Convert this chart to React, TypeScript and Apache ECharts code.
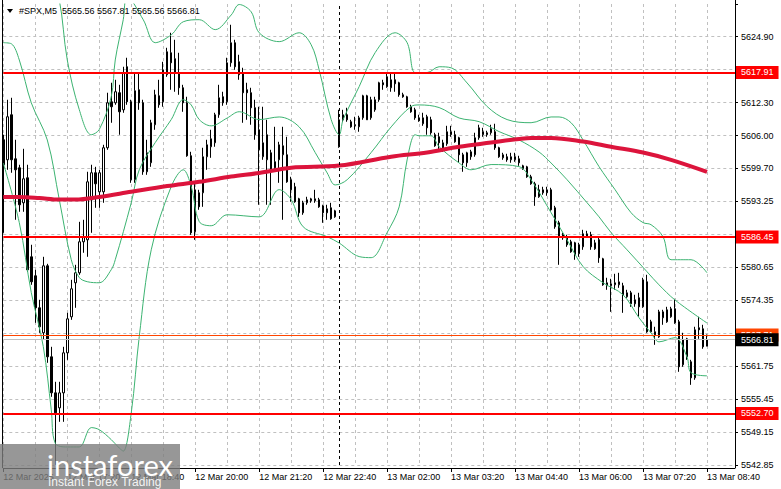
import React, { useEffect, useRef } from "react";
import * as echarts from "echarts";

// ---------- data ----------
const symbolName = "#SPX,M5";
const firstLabel = "12 Mar 2025";
const sessions = [
  { day: "12 Mar", startMin: 16 * 60, bars: 84, names: 84 },
  { day: "13 Mar", startMin: 60, bars: 93, names: 100 },
];

const opens = [
  5605.04, 5601.21, 5609.82, 5601.4, 5599.68, 5592.99, 5597.77, 5582.66, 5579.03, 5572.91,
  5568.13, 5580.94, 5563.54, 5556.65, 5553.78, 5556.65, 5564.3, 5571.19, 5577.69, 5579.6,
  5585.53, 5585.91, 5593.56, 5598.73, 5595.09, 5595.09, 5603.51, 5612.3, 5612.11, 5614.03,
  5610.77, 5619.0, 5612.3, 5597.39, 5614.6, 5612.11, 5598.92, 5600.64, 5607.91, 5613.45,
  5612.3, 5617.47, 5621.67, 5620.53, 5617.85, 5614.98, 5612.11, 5601.98, 5587.44, 5594.9,
  5594.9, 5601.79, 5603.7, 5604.46, 5609.82, 5613.26, 5612.3, 5619.76, 5623.59, 5619.95,
  5617.85, 5614.6, 5614.03, 5611.16, 5606.95, 5601.79, 5601.21, 5602.55, 5600.83, 5601.21,
  5602.17, 5602.17, 5597.39, 5596.05, 5593.75, 5591.07, 5592.99, 5593.37, 5593.37, 5593.56,
  5592.41, 5591.07, 5592.03, 5590.31, 5603.7, 5608.86, 5609.82, 5608.48, 5607.71, 5607.52,
  5609.24, 5613.45, 5609.24, 5610.77, 5612.69, 5615.94, 5615.17, 5614.98, 5616.51, 5615.94,
  5613.64, 5613.26, 5611.35, 5610.77, 5609.24, 5608.1, 5609.44, 5608.86, 5606.0, 5605.61,
  5603.12, 5604.27, 5606.0, 5606.0, 5605.42, 5602.17, 5600.64, 5601.79, 5602.17, 5605.42,
  5606.0, 5606.0, 5606.38, 5606.57, 5603.51, 5601.59, 5601.79, 5601.21, 5601.21, 5601.4,
  5600.06, 5599.87, 5597.96, 5596.62, 5594.14, 5594.9, 5594.9, 5595.47, 5592.03, 5589.16,
  5586.87, 5586.49, 5585.53, 5585.34, 5583.24, 5584.57, 5586.49, 5586.87, 5584.19, 5585.91,
  5582.28, 5577.12, 5577.12, 5577.31, 5577.31, 5577.12, 5575.01, 5575.78, 5573.67, 5574.82,
  5573.1, 5577.88, 5570.23, 5568.32, 5567.36, 5571.0, 5570.23, 5571.19, 5572.72, 5570.23,
  5562.01, 5566.98, 5562.58, 5559.52, 5569.09, 5568.89, 5565.56,
];
const highs = [
  5606.0, 5612.69, 5613.07, 5605.04, 5600.26, 5603.31, 5600.26, 5584.96, 5580.17, 5574.44,
  5582.66, 5581.32, 5565.45, 5558.76, 5558.76, 5565.45, 5571.95, 5578.26, 5581.13, 5589.35,
  5589.74, 5598.92, 5600.26, 5599.87, 5599.3, 5604.08, 5614.03, 5615.94, 5616.51, 5615.55,
  5619.0, 5620.72, 5612.69, 5617.85, 5617.85, 5612.69, 5605.04, 5608.86, 5614.6, 5616.51,
  5619.95, 5622.63, 5625.5, 5624.16, 5621.67, 5615.55, 5613.26, 5602.74, 5596.81, 5595.47,
  5603.51, 5605.04, 5606.95, 5610.2, 5615.55, 5614.22, 5620.72, 5627.03, 5624.16, 5621.29,
  5618.81, 5615.94, 5614.98, 5612.69, 5611.35, 5611.35, 5608.86, 5603.12, 5607.52, 5604.65,
  5607.52, 5605.61, 5597.96, 5596.81, 5593.94, 5593.37, 5594.14, 5593.94, 5595.47, 5593.94,
  5592.61, 5592.61, 5592.99, 5591.65, 5610.77, 5610.77, 5611.16, 5608.86, 5609.44, 5609.63,
  5613.64, 5613.64, 5613.26, 5613.26, 5616.13, 5616.51, 5617.85, 5617.85, 5617.85, 5616.13,
  5614.03, 5613.45, 5611.73, 5611.16, 5609.82, 5610.2, 5609.82, 5609.44, 5606.38, 5606.38,
  5605.04, 5607.71, 5607.71, 5606.76, 5605.61, 5602.55, 5602.74, 5603.12, 5606.38, 5607.91,
  5607.33, 5606.76, 5607.91, 5608.1, 5603.7, 5602.55, 5602.36, 5602.55, 5602.55, 5601.98,
  5600.26, 5600.06, 5598.34, 5597.0, 5596.43, 5596.05, 5596.05, 5595.86, 5592.41, 5589.55,
  5587.25, 5586.87, 5585.91, 5585.53, 5585.34, 5587.82, 5587.63, 5587.44, 5585.91, 5586.3,
  5582.47, 5578.65, 5578.45, 5579.41, 5579.6, 5577.69, 5576.35, 5576.16, 5575.4, 5575.78,
  5578.65, 5579.22, 5570.61, 5569.28, 5572.53, 5572.53, 5573.1, 5573.1, 5574.63, 5570.61,
  5568.13, 5567.17, 5562.96, 5569.28, 5571.19, 5569.66, 5567.81,
];
const lows = [
  5587.25, 5599.3, 5598.73, 5589.74, 5591.27, 5591.27, 5579.79, 5577.31, 5570.04, 5568.13,
  5566.79, 5562.39, 5555.89, 5542.88, 5551.11, 5551.11, 5562.96, 5570.61, 5572.91, 5579.22,
  5583.43, 5582.66, 5587.25, 5592.03, 5592.03, 5592.99, 5603.12, 5608.29, 5611.73, 5606.0,
  5610.2, 5611.73, 5596.81, 5596.81, 5610.77, 5598.34, 5598.34, 5599.87, 5606.95, 5611.16,
  5611.35, 5617.08, 5614.6, 5614.22, 5613.64, 5610.39, 5601.79, 5586.87, 5585.91, 5591.65,
  5592.22, 5599.3, 5601.59, 5603.7, 5609.24, 5611.54, 5611.73, 5619.0, 5618.42, 5616.51,
  5608.29, 5608.86, 5607.91, 5605.04, 5592.61, 5601.21, 5592.61, 5592.61, 5599.3, 5596.81,
  5589.74, 5596.81, 5593.18, 5592.99, 5590.31, 5590.69, 5592.61, 5592.99, 5592.99, 5592.03,
  5589.16, 5589.74, 5589.74, 5590.12, 5603.51, 5608.48, 5608.48, 5607.33, 5606.95, 5606.57,
  5608.86, 5608.86, 5608.86, 5610.39, 5612.3, 5614.6, 5614.98, 5614.22, 5614.22, 5613.26,
  5613.07, 5611.16, 5610.2, 5608.86, 5608.48, 5607.71, 5606.0, 5606.0, 5603.7, 5603.12,
  5602.74, 5603.89, 5605.61, 5604.46, 5600.64, 5598.92, 5599.87, 5601.21, 5601.79, 5605.04,
  5605.61, 5605.61, 5606.0, 5603.12, 5601.59, 5601.21, 5600.83, 5600.64, 5600.83, 5600.06,
  5599.3, 5597.77, 5596.43, 5592.41, 5593.94, 5594.52, 5594.33, 5591.46, 5588.02, 5581.13,
  5585.91, 5584.57, 5583.43, 5582.09, 5582.66, 5584.0, 5586.3, 5584.0, 5584.0, 5581.51,
  5577.12, 5576.35, 5572.14, 5576.35, 5576.73, 5571.95, 5574.82, 5573.1, 5573.1, 5571.19,
  5572.91, 5568.13, 5568.13, 5565.83, 5567.17, 5569.66, 5570.04, 5571.0, 5569.85, 5560.67,
  5561.63, 5562.96, 5558.18, 5559.14, 5566.98, 5565.07, 5565.56,
];
const closes = [
  5600.26, 5609.44, 5601.21, 5599.3, 5592.61, 5597.58, 5580.17, 5577.88, 5572.91, 5569.28,
  5580.94, 5563.54, 5556.65, 5552.83, 5556.65, 5564.3, 5570.8, 5576.54, 5579.6, 5585.53,
  5586.49, 5597.0, 5598.73, 5596.62, 5598.73, 5603.51, 5612.11, 5611.35, 5614.22, 5610.39,
  5617.85, 5612.3, 5597.39, 5614.41, 5612.11, 5598.92, 5602.55, 5608.29, 5613.64, 5611.73,
  5618.42, 5621.87, 5619.76, 5617.85, 5614.98, 5612.11, 5601.98, 5587.25, 5595.47, 5592.22,
  5601.79, 5604.08, 5605.23, 5609.82, 5613.07, 5612.11, 5619.76, 5623.59, 5619.0, 5617.47,
  5614.03, 5614.03, 5611.16, 5606.0, 5603.12, 5604.46, 5606.0, 5599.3, 5599.68, 5604.08,
  5603.89, 5597.0, 5595.47, 5593.18, 5591.07, 5592.99, 5593.56, 5593.75, 5593.75, 5592.22,
  5591.07, 5591.84, 5589.93, 5591.46, 5608.86, 5609.82, 5608.86, 5607.52, 5607.91, 5609.24,
  5613.45, 5608.86, 5612.69, 5612.69, 5615.94, 5615.55, 5617.08, 5616.51, 5615.75, 5613.64,
  5613.26, 5611.35, 5610.39, 5609.24, 5608.67, 5609.24, 5607.33, 5606.38, 5603.89, 5604.46,
  5604.46, 5606.57, 5606.57, 5604.65, 5602.17, 5600.64, 5602.55, 5602.74, 5605.42, 5607.33,
  5606.57, 5606.38, 5607.14, 5603.51, 5601.79, 5602.17, 5601.21, 5601.79, 5601.79, 5600.64,
  5599.49, 5597.96, 5596.62, 5594.14, 5595.47, 5595.47, 5595.47, 5591.65, 5588.4, 5586.49,
  5586.3, 5584.96, 5583.62, 5583.05, 5584.96, 5587.06, 5587.06, 5584.57, 5585.34, 5582.47,
  5577.31, 5577.69, 5577.5, 5577.69, 5577.88, 5575.4, 5575.78, 5573.67, 5574.44, 5573.1,
  5578.26, 5568.32, 5568.32, 5567.75, 5572.14, 5572.14, 5572.53, 5572.72, 5570.04, 5561.63,
  5566.79, 5563.54, 5559.52, 5568.7, 5568.7, 5565.45, 5566.81,
];

// Bollinger bands and moving average: [bar index, price]
const upperBand = [
  [0, 5649.0], [7, 5645.2], [12, 5635.6], [14, 5631.8], [16, 5620.3], [19, 5610.8], [22, 5606.0],
  [24, 5607.0], [27, 5613.3], [28, 5620.3], [30, 5628.0], [31, 5632.4], [35, 5628.0], [38, 5623.6],
  [42, 5625.1], [45, 5627.6], [49, 5628.0], [53, 5626.1], [57, 5628.9], [59, 5630.9], [62, 5629.5],
  [64, 5625.5], [69, 5623.8], [74, 5625.5], [77, 5623.2], [79, 5618.4], [82, 5608.9], [84, 5606.0],
  [85, 5608.9], [89, 5615.2], [93, 5621.7], [98, 5625.5], [101, 5623.6], [103, 5617.9], [106, 5617.9],
  [109, 5619.0], [112, 5618.8], [116, 5615.9], [121, 5611.4], [126, 5608.9], [132, 5608.3],
  [137, 5609.4], [139, 5609.4], [142, 5608.3], [145, 5605.0], [149, 5599.9], [153, 5595.5],
  [157, 5591.1], [160, 5589.2], [162, 5588.8], [165, 5586.5], [167, 5582.1], [172, 5582.1], [176, 5579.6],
];
const middleBand = [
  [0, 5623.6], [2, 5623.4], [4, 5620.3], [7, 5612.1], [11, 5605.0], [14, 5593.6], [17, 5582.1],
  [19, 5578.7], [21, 5577.9], [24, 5577.7], [27, 5580.2], [28, 5582.1], [32, 5593.0], [34, 5599.3],
  [38, 5604.5], [42, 5608.9], [45, 5612.7], [47, 5611.7], [49, 5608.9], [52, 5607.7], [56, 5609.2],
  [59, 5610.4], [64, 5608.9], [69, 5609.4], [74, 5607.5], [78, 5602.6], [81, 5598.7], [83, 5596.4],
  [86, 5597.4], [92, 5602.6], [97, 5607.5], [102, 5611.4], [104, 5611.7], [109, 5611.2], [114, 5609.2],
  [119, 5608.5], [124, 5606.6], [129, 5605.0], [134, 5602.7], [137, 5600.6], [141, 5597.4],
  [146, 5593.0], [149, 5590.3], [152, 5587.3], [156, 5584.0], [161, 5579.8], [164, 5577.3],
  [168, 5574.4], [176, 5570.0],
];
const lowerBand = [
  [0, 5600.6], [4, 5589.2], [7, 5575.8], [10, 5565.5], [12, 5553.4], [13, 5547.0], [16, 5546.3],
  [19, 5546.3], [22, 5550.0], [24, 5549.6], [27, 5547.7], [29, 5546.1], [30, 5545.5], [32, 5552.8],
  [34, 5567.4], [37, 5584.0], [42, 5596.1], [45, 5599.3], [47, 5596.1], [49, 5589.4], [52, 5588.6],
  [56, 5590.7], [64, 5590.3], [69, 5595.5], [72, 5593.6], [75, 5588.4], [81, 5586.5], [84, 5585.3],
  [89, 5582.7], [92, 5582.5], [96, 5587.3], [99, 5592.2], [101, 5601.2], [103, 5606.0], [104, 5605.8],
  [107, 5605.8], [109, 5603.7], [114, 5600.6], [117, 5599.3], [122, 5600.3], [129, 5599.9],
  [132, 5597.4], [137, 5591.1], [141, 5585.9], [145, 5580.8], [150, 5577.7], [155, 5575.4],
  [159, 5571.0], [162, 5568.1], [164, 5566.4], [168, 5567.2], [171, 5563.5], [172, 5560.5], [176, 5559.9],
];
const movingAverage = [
  [0, 5594.1], [4, 5594.1], [9, 5593.9], [14, 5593.6], [18, 5593.6], [24, 5594.1], [32, 5595.1],
  [41, 5596.2], [49, 5597.0], [57, 5598.0], [64, 5598.7], [72, 5599.7], [84, 5600.1], [97, 5601.8],
  [106, 5602.6], [114, 5603.7], [122, 5604.5], [129, 5605.2], [132, 5605.4], [137, 5605.4],
  [145, 5604.7], [152, 5603.7], [160, 5602.6], [167, 5601.2], [176, 5598.9],
];

const levels = [5617.91, 5586.45, 5552.7];
const askPrice = 5567.71;
const yMin = 5542.85;
const yStep = 6.3;
const yTickLabels = [
  "5542.85", "5549.15", "5555.45", "5561.75", "5568.05", "5574.35", "5580.65",
  "5586.95", "5593.25", "5599.70", "5606.00", "5612.30", "5618.60", "5624.90",
];
const separatorBar = 84;

// ---------- derived ----------
const pad2 = (n: number) => (n < 10 ? "0" + n : "" + n);
const categories: string[] = [];
sessions.forEach((s) => {
  for (let k = 0; k < s.names; k++) {
    const m = s.startMin + 5 * k;
    categories.push(`${s.day} ${pad2(Math.floor(m / 60) % 24)}:${pad2(m % 60)}`);
  }
});
const totalCats = 184;
categories.length = totalCats;

const candleData = opens.map((o, i) => [o, closes[i], lows[i], highs[i]]);
const last = opens.length - 1;
const bidPrice = closes[last];
const titleText = `${symbolName}  ${opens[last].toFixed(2)} ${highs[last].toFixed(2)} ${lows[last].toFixed(2)} ${closes[last].toFixed(2)}`;

const FONT = "Liberation Sans, Arial, sans-serif";
const gridColor = "#c0c0c0";

function priceLabel(v: number, bg: string) {
  return {
    show: true,
    position: "end",
    distance: 1,
    formatter: v.toFixed(2),
    color: "#fff",
    backgroundColor: bg,
    padding: [2, 5, 1, 5],
    fontSize: 9,
    lineHeight: 10,
    fontFamily: FONT,
  };
}

const gearTeeth = Array.from({ length: 8 }, (_, k) => ({
  type: "rect",
  shape: { x: -3, y: -17, width: 6, height: 6 },
  rotation: (k * Math.PI) / 4,
  style: { fill: "#fff" },
}));

const option: any = {
  animation: false,
  backgroundColor: "#fff",
  textStyle: { fontFamily: FONT },
  grid: { left: 3.3, right: 46, top: 4, bottom: 24, containLabel: false },
  xAxis: {
    type: "category",
    data: categories,
    boundaryGap: false,
    offset: 3,
    axisLine: { show: true, lineStyle: { color: "#000", width: 1 } },
    axisTick: { show: true, interval: 15, length: 4, lineStyle: { color: "#000" } },
    axisLabel: {
      interval: 15,
      align: "left",
      margin: 4,
      fontSize: 9,
      color: "#000",
      fontFamily: FONT,
      formatter: (v: string, i: number) => (i === 0 ? firstLabel : i > last ? "" : v),
    },
    splitLine: { show: true, interval: 7, lineStyle: { color: gridColor, type: [3, 3], width: 1 } },
  },
  yAxis: {
    type: "value",
    position: "right",
    min: yMin,
    max: 5631.0,
    interval: yStep,
    axisLine: { show: false },
    axisTick: { show: true, length: 3, lineStyle: { color: "#000" } },
    axisLabel: {
      margin: 6,
      fontSize: 9,
      color: "#000",
      fontFamily: FONT,
      formatter: (v: number) => {
        const k = Math.round((v - yMin) / yStep);
        return Math.abs(v - (yMin + k * yStep)) < 0.01 && yTickLabels[k] ? yTickLabels[k] : "";
      },
    },
    splitLine: { show: true, showMaxLine: false, lineStyle: { color: gridColor, type: [3, 3], width: 1 } },
  },
  series: [
    {
      type: "candlestick",
      data: candleData,
      barWidth: 2,
      itemStyle: { color: "#fff", color0: "#000", borderColor: "#000", borderColor0: "#000", borderWidth: 1 },
      markLine: {
        silent: true,
        symbol: ["none", "none"],
        animation: false,
        data: [
          { xAxis: categories[separatorBar], lineStyle: { color: "#000", width: 1, type: [3, 3] }, label: { show: false } },
          ...levels.map((v) => ({ yAxis: v, lineStyle: { color: "#ff0000", width: 2, type: "solid" }, label: priceLabel(v, "#ff0000") })),
          { yAxis: askPrice, lineStyle: { color: "#ff4500", width: 1, type: "solid" }, label: priceLabel(askPrice, "#ff4500") },
          { yAxis: bidPrice, lineStyle: { color: "#c0c0c0", width: 1, type: "solid" }, label: priceLabel(bidPrice, "#000") },
        ],
      },
    },
    ...[upperBand, middleBand, lowerBand].map((d) => ({
      type: "line",
      data: d,
      smooth: 0.35,
      symbol: "none",
      showSymbol: false,
      silent: true,
      lineStyle: { color: "#3cb371", width: 1 },
    })),
    {
      type: "line",
      data: movingAverage,
      smooth: 0.35,
      symbol: "none",
      showSymbol: false,
      silent: true,
      lineStyle: { color: "#dc143c", width: 4 },
    },
  ],
  graphic: [
    { type: "line", z: 50, shape: { x1: 2.5, y1: 0, x2: 2.5, y2: 468 }, style: { stroke: "#000", lineWidth: 1 } },
    { type: "line", z: 50, shape: { x1: 735.5, y1: 0, x2: 735.5, y2: 468 }, style: { stroke: "#000", lineWidth: 1 } },
    { type: "polygon", z: 50, shape: { points: [[7, 9], [13, 9], [10, 13]] }, style: { fill: "#000" } },
    {
      type: "text", z: 50, x: 19, y: 11,
      style: { text: titleText, fill: "#000", fontSize: 9, fontFamily: FONT, verticalAlign: "middle", textVerticalAlign: "middle" },
    },
    { type: "rect", z: 100, shape: { x: 0, y: 444, width: 180, height: 45 }, style: { fill: "rgba(125,125,125,0.8)" } },
    {
      type: "group", z: 101, x: 25, y: 466,
      children: [
        { type: "ring", shape: { cx: 0, cy: 0, r: 13, r0: 8 }, style: { fill: "#fff" } },
        ...gearTeeth,
        { type: "circle", shape: { cx: 0, cy: 0, r: 3 }, style: { fill: "#fff" } },
      ],
    },
    {
      type: "text", z: 101, x: 47, y: 464,
      style: { text: "instaforex", fill: "#fff", fontSize: 29, fontFamily: "Lato, sans-serif", verticalAlign: "middle", textVerticalAlign: "middle" },
    },
    {
      type: "text", z: 101, x: 48, y: 482,
      style: { text: "Instant Forex Trading", fill: "rgba(255,255,255,0.9)", fontSize: 12, fontFamily: FONT, verticalAlign: "middle", textVerticalAlign: "middle" },
    },
  ],
};

export default function App() {
  const ref = useRef<HTMLDivElement>(null);
  useEffect(() => {
    const chart = echarts.init(ref.current as HTMLDivElement, null, { renderer: "svg" });
    chart.setOption(option);
    return () => chart.dispose();
  }, []);
  return (
    <div
      ref={ref}
      style={{ position: "fixed", left: 0, top: 0, width: 781, height: 489, background: "#fff" }}
    />
  );
}
